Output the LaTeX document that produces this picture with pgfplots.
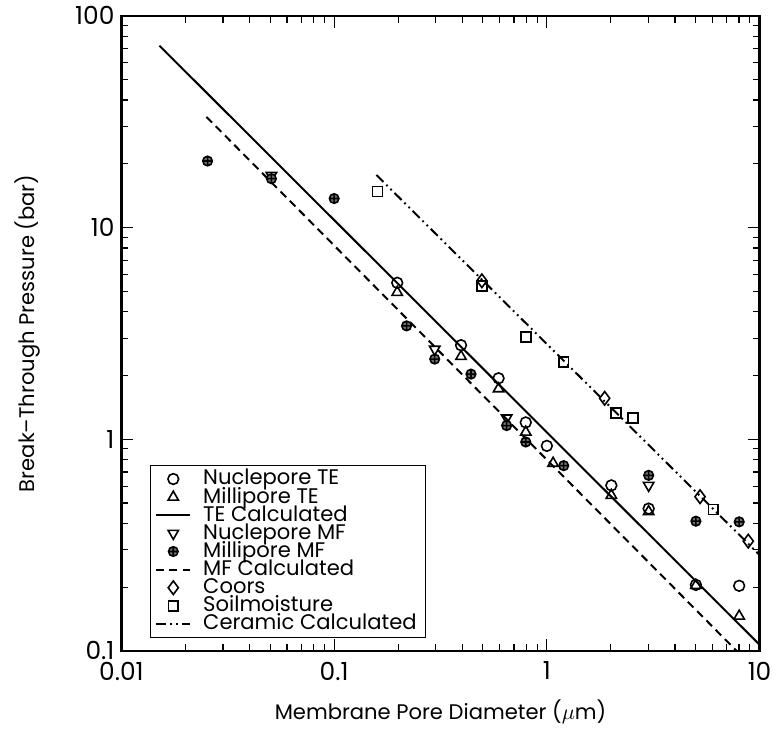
\documentclass[border=0pt]{standalone}
\usepackage{fontspec}
\setmainfont{Poppins}
\usepackage{pgfplots}
\pgfplotsset{compat=1.18}
\begin{document}
\begin{tikzpicture}
\begin{loglogaxis}[
  scale only axis, width=320.5pt, height=319pt,
  xmin=0.01, xmax=10, ymin=0.1, ymax=100,
  xtick={0.01,0.1,1,10}, xticklabels={0.01,0.1,1,10},
  ytick={0.1,1,10,100}, yticklabels={0.1,1,10,100},
  tick align=inside, major tick length=6pt, minor tick length=3.5pt,
  axis line style={line width=1.2pt},
  every tick/.style={black, line width=0.6pt},
  tick label style={font=\fontsize{12.5}{14}\selectfont},
  xticklabel style={yshift=-2pt},
  label style={font=\fontsize{10.6}{12}\selectfont},
  xlabel={Membrane Pore Diameter ($\mu$m)},
  ylabel={Break--Through Pressure (bar)},
  xlabel style={at={(axis description cs:0.5,-0.066)}, anchor=north},
  ylabel style={at={(axis description cs:-0.117,0.5)}, anchor=south},
  legend style={at={(0.044,0.02)}, anchor=south west, draw=black, line width=0.8pt,
    font=\fontsize{10.6}{10.6}\selectfont, row sep=0.6pt, column sep=4pt, inner sep=2.5pt,
    nodes={inner ysep=0pt, text height=7.2pt, text depth=1.3pt}},
  legend cell align=left,
  mark options={solid, line width=0.8pt},
]
% Nuclepore TE
\addplot[only marks, mark=o, mark size=2.7pt, black] coordinates {
(0.198,5.48) (0.395,2.78) (0.593,1.94) (0.796,1.20) (1.0,0.93)
(2.01,0.605) (3.01,0.47) (5.02,0.205) (8.02,0.203)};
\addlegendentry{Nuclepore TE}
% Millipore TE
\addplot[only marks, mark=triangle, mark size=3pt, black] coordinates {
(0.198,4.94) (0.395,2.46) (0.593,1.73) (0.796,1.08) (1.07,0.77)
(2.01,0.543) (3.01,0.455) (5.02,0.204) (8.02,0.146)};
\addlegendentry{Millipore TE}
% TE Calculated
\addplot[black, line width=1pt, no marks] coordinates {(0.0151,72.2) (10,0.107)};
\addlegendentry{TE Calculated}
% Nuclepore MF
\addplot[only marks, mark=triangle, mark size=3pt, black, mark options={rotate=180, solid, line width=0.8pt}] coordinates {
(0.0507,17.6) (0.297,2.66) (0.647,1.26) (3.01,0.605)};
\addlegendentry{Nuclepore MF}
% Millipore MF
\addplot[only marks, mark=oplus*, mark size=2.4pt, black, mark options={fill=black!55, solid, line width=0.8pt}] coordinates {
(0.0254,20.6) (0.0507,17.0) (0.1,13.7) (0.219,3.43) (0.297,2.39) (0.44,2.03)
(0.647,1.16) (0.796,0.97) (1.2,0.75) (3.01,0.675) (5.02,0.41) (8.02,0.407)};
\addlegendentry{Millipore MF}
% MF Calculated
\addplot[black, line width=1pt, no marks, dash pattern=on 4pt off 2.6pt] coordinates {(0.0251,33.3) (7.8,0.1)};
\addlegendentry{MF Calculated}
% Coors
\addplot[only marks, mark=diamond, mark size=3.4pt, black] coordinates {
(0.495,5.6) (1.87,1.56) (5.25,0.535) (8.85,0.33)};
\addlegendentry{Coors}
% Soilmoisture
\addplot[only marks, mark=square, mark size=2.5pt, black] coordinates {
(0.16,14.8) (0.495,5.3) (0.796,3.04) (1.2,2.32) (2.12,1.33) (2.54,1.26) (6.06,0.466)};
\addlegendentry{Soilmoisture}
% Ceramic Calculated
\addplot[black, line width=1pt, no marks, dash pattern=on 5pt off 2pt on 0.9pt off 2pt on 0.9pt off 2pt] coordinates {(0.158,17.7) (10,0.284)};
\addlegendentry{Ceramic Calculated}
\end{loglogaxis}
\path ([shift={(-61pt,-37.5pt)}]current axis.south west) rectangle ([shift={(7.5pt,7.5pt)}]current axis.north east);
\end{tikzpicture}
\end{document}
